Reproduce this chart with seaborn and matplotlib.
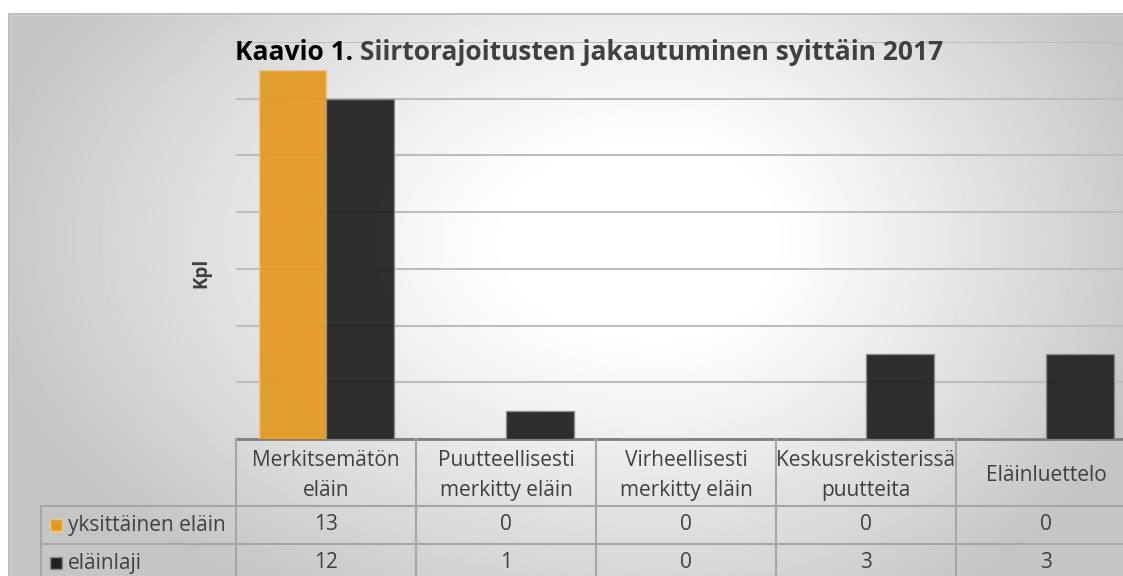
import numpy as np
import pandas as pd
import matplotlib
matplotlib.use("Agg")
import matplotlib.pyplot as plt
import seaborn as sns
from matplotlib.patches import Rectangle

# Tiedot
syyt = ["Merkitsemätön\neläin", "Puutteellisesti\nmerkitty eläin", "Virheellisesti\nmerkitty eläin",
        "Keskusrekisterissä\npuutteita", "Eläinluettelo"]
sarjat = ["yksittäinen eläin", "eläinlaji"]
yksittainen = [13, 0, 0, 0, 0]
elainlaji = [12, 1, 0, 3, 3]
varit = ["#E39A22", "#222222"]
reunat = ["#F3C98A", "#8C8C8C"]

df = pd.DataFrame({
    "Syy": syyt * 2,
    "Sarja": [sarjat[0]] * 5 + [sarjat[1]] * 5,
    "Kpl": yksittainen + elainlaji,
})

sns.set_style("white")
plt.rcParams['font.family'] = ['Open Sans', 'DejaVu Sans']

W, H = 1123, 576
fig = plt.figure(figsize=(W / 100, H / 100), dpi=100)


def fx(px):
    return px / W


def fy(py):
    return 1 - py / H


# Tausta: säteittäinen liukuväri
bg = fig.add_axes([0, 0, 1, 1], zorder=0)
bg.set_xlim(0, W)
bg.set_ylim(H, 0)
bg.axis("off")
xx, yy = np.meshgrid(np.arange(W), np.arange(H))
cx, cy = 660, 240
dx = np.where(xx > cx, (xx - cx) / 500, (xx - cx) / 680)
dy = (yy - cy) / 420
r = np.sqrt(dx ** 2 + dy ** 2)
t = np.clip((r - 0.22) / 0.8, 0, 1)
v = 1 - 0.23 * t ** 1.1
bg.imshow(v, cmap="gray", vmin=0, vmax=1, extent=(0, W, H, 0), aspect="auto", interpolation="bilinear")
bg.add_patch(Rectangle((0, 0), W, 14, color="white", zorder=2))
bg.add_patch(Rectangle((0, 0), 9, H, color="white", zorder=2))
bg.plot([9, W], [14, 14], color="#BFBFBF", lw=1.5, zorder=3)
bg.plot([9, 9], [14, H], color="#BFBFBF", lw=1.5, zorder=3)

# Pylväskaavio
x0, x1, ytop, ybase = 236, 1136, 42, 439
ax = fig.add_axes([fx(x0), fy(ybase), fx(x1 - x0), fy(ytop) - fy(ybase)], zorder=2)
ax.patch.set_alpha(0)
sns.barplot(data=df, x="Syy", y="Kpl", hue="Sarja", hue_order=sarjat, palette=varit,
            width=0.75, saturation=1, ax=ax, legend=False, alpha=0.94, zorder=3)
for i, bar in enumerate(ax.patches):
    bar.set_edgecolor(reunat[i // 5])
    bar.set_linewidth(1.0)
ax.set_ylim(0, 14)
ax.set_xlim(-0.5, 4.5)
ax.set_yticks(range(0, 15, 2))
ax.yaxis.grid(True, color="#BDBDBD", lw=1.5, zorder=0)
ax.set_axisbelow(True)
ax.set_xticks([])
ax.tick_params(left=False, labelleft=False)
ax.set_xlabel("")
ax.set_ylabel("")
for s in ["top", "right", "left"]:
    ax.spines[s].set_visible(False)
ax.spines["bottom"].set_color("#7F7F7F")
ax.spines["bottom"].set_linewidth(2)

# Otsikko
ttl_y = fy(52)
t1 = fig.text(0, ttl_y, "Kaavio 1. ", fontsize=19, fontweight="bold", color="black", va="center")
t2 = fig.text(0, ttl_y, "Siirtorajoitusten jakautuminen syittäin 2017", fontsize=19,
              fontweight="bold", color="#404040", va="center")
fig.canvas.draw()
rend = fig.canvas.get_renderer()
w1 = t1.get_window_extent(rend).width
w2 = t2.get_window_extent(rend).width
start = 589 - (w1 + w2) / 2
t1.set_x(fx(start))
t2.set_x(fx(start + w1))

fig.text(fx(201), fy(273), "Kpl", rotation=90, fontsize=13.5, fontweight="bold",
         color="#404040", ha="center", va="center")

# Taulukko
tb = fig.add_axes([0, 0, 1, 1], zorder=3)
tb.set_xlim(0, W)
tb.set_ylim(H, 0)
tb.axis("off")
viiva = dict(color="#A6A6A6", lw=1.5)
cw = (x1 - x0) / len(syyt)
for k in range(len(syyt) + 1):
    tb.plot([x0 + k * cw] * 2, [ybase, H], **viiva)
rivit = [506, 544]
for ry in rivit:
    tb.plot([41, W], [ry, ry], **viiva)
tb.plot([41, 41], [rivit[0], H], **viiva)

teksti = "#404040"
fs = 15
for k, syy in enumerate(syyt):
    cxk = x0 + (k + 0.5) * cw
    tb.text(cxk, (ybase + rivit[0]) / 2 + 3, syy, ha="center", va="center", fontsize=fs,
            color=teksti, linespacing=1.6)
    tb.text(cxk, (rivit[0] + rivit[1]) / 2, str(yksittainen[k]), ha="center", va="center",
            fontsize=fs, color=teksti)
    tb.text(cxk, rivit[1] + 19, str(elainlaji[k]), ha="center", va="center",
            fontsize=fs, color=teksti)

for j, (nimi, ry) in enumerate(zip(sarjat, [(rivit[0] + rivit[1]) / 2, rivit[1] + 19])):
    tb.add_patch(Rectangle((50, ry - 6), 12, 12, facecolor=varit[j], edgecolor=reunat[j], lw=1))
    tb.text(68, ry, nimi, ha="left", va="center", fontsize=fs, color=teksti)

fig.savefig("out.png", dpi=100)
